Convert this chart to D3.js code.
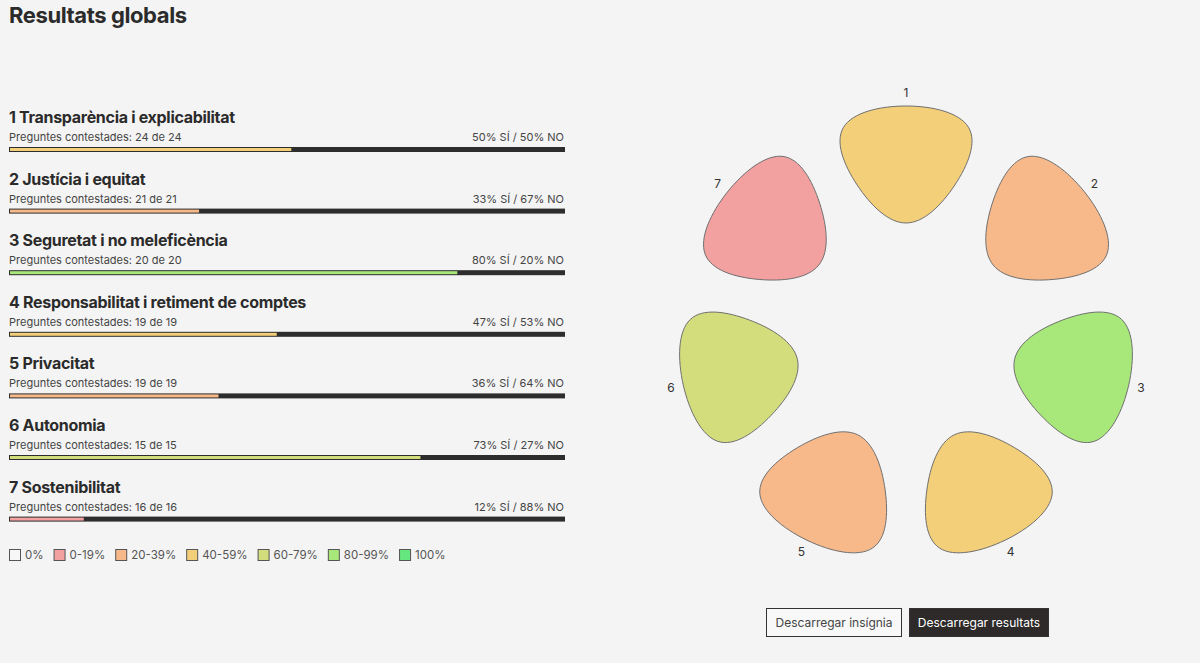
<!DOCTYPE html>
<html>
<head>
<meta charset="utf-8">
<script src="https://cdn.jsdelivr.net/npm/d3@7/dist/d3.min.js"></script>
<style>
  html, body { margin: 0; padding: 0; background: #f4f4f4; }
  svg { display: block; font-family: Inter, "Noto Sans", sans-serif; }
</style>
</head>
<body>
<svg id="chart" width="1200" height="663"></svg>
<script>
// ---- data ----
const categories = [
  "Transparència i explicabilitat",
  "Justícia i equitat",
  "Seguretat i no meleficència",
  "Responsabilitat i retiment de comptes",
  "Privacitat",
  "Autonomia",
  "Sostenibilitat"
];
const answered = [24, 21, 20, 19, 19, 15, 16];
const totals   = [24, 21, 20, 19, 19, 15, 16];
const yesCounts = [12, 7, 16, 9, 7, 11, 2];
const yesLabels = [50, 33, 80, 47, 36, 73, 12];
const noLabels  = [50, 67, 20, 53, 64, 27, 88];
const legendLabels = ["0%", "0-19%", "20-39%", "40-59%", "60-79%", "80-99%", "100%"];
const legendColors = ["#f7f7f7", "#f2a0a0", "#f7b98a", "#f2cf78", "#d3dd7c", "#a8e87a", "#66e67f"];
const buttons = ["Descarregar insígnia", "Descarregar resultats"];

const svg = d3.select("#chart");
const colorScale = d3.scaleThreshold()
  .domain([0.0001, 0.2, 0.4, 0.6, 0.8, 0.9999])
  .range(legendColors);

// title
svg.append("text").attr("x", 9).attr("y", 23)
  .attr("font-size", 22).attr("font-weight", 700).attr("fill", "#2b2b2b")
  .attr("letter-spacing", -0.4)
  .text("Resultats globals");

// ---- bars ----
const barX0 = 9, barX1 = 565;
const fillX = d3.scaleLinear().domain([0, 1]).range([14.6, 568]);
const rowY = d3.scaleLinear().domain([0, 6]).range([147, 147 + 6 * 61.6]);

categories.forEach((c, i) => {
  const y = rowY(i);
  const frac = yesCounts[i] / totals[i];
  svg.append("text").attr("x", 9).attr("y", y - 24)
    .attr("font-size", 16).attr("font-weight", 700).attr("fill", "#2b2b2b")
    .attr("letter-spacing", -0.3)
    .text((i + 1) + " " + c);
  svg.append("text").attr("x", 9).attr("y", y - 6)
    .attr("font-size", 11).attr("fill", "#444")
    .text("Preguntes contestades: " + answered[i] + " de " + totals[i]);
  svg.append("text").attr("x", 564).attr("y", y - 6)
    .attr("text-anchor", "end")
    .attr("font-size", 11).attr("fill", "#444")
    .text(yesLabels[i] + "% SÍ / " + noLabels[i] + "% NO");
  svg.append("rect").attr("x", barX0).attr("y", y)
    .attr("width", barX1 - barX0).attr("height", 5).attr("fill", "#2d2d2d");
  svg.append("rect").attr("x", barX0 + 1).attr("y", y + 1)
    .attr("width", fillX(frac) - barX0 - 1).attr("height", 3)
    .attr("fill", colorScale(frac));
});

// ---- legend ----
let lx = 9;
legendLabels.forEach((l, i) => {
  svg.append("rect").attr("x", lx + 0.5).attr("y", 549.5)
    .attr("width", 11).attr("height", 11)
    .attr("fill", legendColors[i]).attr("stroke", "#555").attr("stroke-width", 1);
  const t = svg.append("text").attr("x", lx + 16).attr("y", 559)
    .attr("font-size", 11.5).attr("fill", "#555").text(l);
  lx = lx + 16 + t.node().getComputedTextLength() + 10;
});

// ---- petals ----
const cx = 906, cy = 334.4, R = 183.4;
const angle = d3.scaleLinear().domain([0, 7]).range([0, 360]);

// rounded "guitar pick" shape: smooth B-spline over a triangle with bulged edge midpoints
function makeShape() {
  const V0 = [-85, -50], V1 = [85, -50], V2 = [0, 85];
  const sTop = 22, sSide = 16;
  function mid(a, b, s) {
    const dx = b[0] - a[0], dy = b[1] - a[1], L = Math.hypot(dx, dy);
    return [(a[0] + b[0]) / 2 + dy / L * s, (a[1] + b[1]) / 2 - dx / L * s];
  }
  const ctrl = [V0, mid(V0, V1, sTop), V1, mid(V1, V2, sSide), V2, mid(V2, V0, sSide)];
  const d = d3.line().curve(d3.curveBasisClosed)(ctrl);
  const tmp = svg.append("path").attr("d", d);
  const bb = tmp.node().getBBox();
  tmp.remove();
  // fit into target local box: x [-66,66], y [-45,72]
  const sx = 132 / bb.width, sy = 117 / bb.height;
  const tx = -66 - bb.x * sx, ty = -45 - bb.y * sy;
  return { d, t: `translate(${tx},${ty}) scale(${sx},${sy})` };
}
const shape = makeShape();

const petals = svg.append("g");
const lcx = 906, lcy = 334, LR = 241;
categories.forEach((c, i) => {
  const frac = yesCounts[i] / totals[i];
  const a = angle(i) * Math.PI / 180;
  const px = cx + R * Math.sin(a), py = cy - R * Math.cos(a);
  petals.append("g")
    .attr("transform", `translate(${px},${py}) rotate(${angle(i)})`)
    .append("path").attr("d", shape.d)
    .attr("transform", shape.t)
    .attr("vector-effect", "non-scaling-stroke")
    .attr("fill", colorScale(frac))
    .attr("stroke", "#707070").attr("stroke-width", 1);
  petals.append("text")
    .attr("x", lcx + LR * Math.sin(a)).attr("y", lcy - LR * Math.cos(a) + 4.4)
    .attr("text-anchor", "middle").attr("font-size", 12).attr("fill", "#333")
    .text(i + 1);
});

// ---- buttons ----
const btn = [
  { x: 766, w: 135, fill: "#f8f8f8", text: "#444" },
  { x: 909, w: 139, fill: "#2e2a2a", text: "#fff" }
];
buttons.forEach((b, i) => {
  svg.append("rect").attr("x", btn[i].x + 0.5).attr("y", 608.5)
    .attr("width", btn[i].w).attr("height", 28)
    .attr("fill", btn[i].fill).attr("stroke", "#333").attr("stroke-width", 1);
  svg.append("text").attr("x", btn[i].x + btn[i].w / 2 + 0.5).attr("y", 627)
    .attr("text-anchor", "middle").attr("font-size", 12).attr("fill", btn[i].text)
    .text(b);
});
</script>
</body>
</html>
